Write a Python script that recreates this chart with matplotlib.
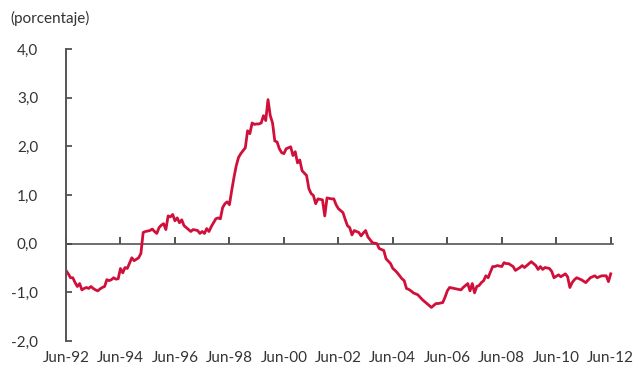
import numpy as np
import pandas as pd
from matplotlib import pyplot as plt
import matplotlib.ticker as mticker

plt.rcParams['font.family'] = ['Lato', 'DejaVu Sans']

# monthly series, Jun-1992 .. Jun-2012 (percent)
values = [
    -0.55, -0.62, -0.70, -0.70, -0.80, -0.88, -0.82, -0.95, -0.92, -0.90, -0.92, -0.88,
    -0.92, -0.95, -0.97, -0.93, -0.90, -0.88, -0.74, -0.76, -0.74, -0.70, -0.73, -0.72,
    -0.51, -0.60, -0.49, -0.51, -0.40, -0.29, -0.35, -0.32, -0.29, -0.20, 0.23, 0.25,
    0.26, 0.27, 0.30, 0.25, 0.21, 0.33, 0.38, 0.41, 0.29, 0.57, 0.55, 0.60,
    0.47, 0.53, 0.43, 0.49, 0.37, 0.33, 0.29, 0.25, 0.29, 0.28, 0.27, 0.21,
    0.25, 0.21, 0.31, 0.25, 0.35, 0.43, 0.51, 0.53, 0.51, 0.74, 0.82, 0.86,
    0.80, 1.09, 1.36, 1.60, 1.77, 1.85, 1.91, 1.97, 2.32, 2.26, 2.48, 2.45,
    2.46, 2.46, 2.48, 2.63, 2.53, 2.96, 2.63, 2.48, 2.11, 2.09, 1.95, 1.87,
    1.85, 1.95, 1.97, 1.99, 1.81, 1.89, 1.66, 1.72, 1.50, 1.45, 1.40, 1.13,
    1.03, 0.99, 0.82, 0.92, 0.91, 0.90, 0.57, 0.94, 0.93, 0.92, 0.92, 0.80,
    0.72, 0.68, 0.64, 0.50, 0.37, 0.33, 0.18, 0.27, 0.25, 0.23, 0.16, 0.22,
    0.27, 0.14, 0.08, 0.02, 0.01, 0.00, -0.10, -0.12, -0.14, -0.31, -0.36, -0.41,
    -0.51, -0.55, -0.60, -0.66, -0.72, -0.76, -0.92, -0.94, -0.97, -1.01, -1.03, -1.05,
    -1.10, -1.15, -1.19, -1.23, -1.27, -1.31, -1.27, -1.23, -1.23, -1.22, -1.21, -1.10,
    -0.97, -0.90, -0.91, -0.92, -0.93, -0.94, -0.95, -0.90, -0.86, -0.82, -0.97, -0.82,
    -1.01, -0.88, -0.86, -0.80, -0.76, -0.66, -0.70, -0.58, -0.47, -0.47, -0.45, -0.46,
    -0.47, -0.39, -0.41, -0.41, -0.44, -0.47, -0.55, -0.52, -0.49, -0.45, -0.49, -0.45,
    -0.41, -0.37, -0.41, -0.45, -0.53, -0.47, -0.53, -0.49, -0.50, -0.51, -0.57, -0.70,
    -0.67, -0.64, -0.68, -0.65, -0.62, -0.68, -0.90, -0.80, -0.74, -0.70, -0.72, -0.74,
    -0.77, -0.80, -0.75, -0.70, -0.68, -0.66, -0.70, -0.68, -0.66, -0.66, -0.66, -0.78,
    -0.62,
]
dates = pd.date_range('1992-06-01', periods=len(values), freq='MS')
tick_labels = ['Jun-92', 'Jun-94', 'Jun-96', 'Jun-98', 'Jun-00',
               'Jun-02', 'Jun-04', 'Jun-06', 'Jun-08', 'Jun-10', 'Jun-12']
y_ticks = [-2, -1, 0, 1, 2, 3, 4]

months = np.arange(len(values))
tick_pos = np.arange(0, len(values), 24)

fig = plt.figure(figsize=(6.35, 3.68), dpi=100)
ax = fig.add_axes([66 / 635, 27 / 368, 547 / 635, 292 / 368])

ax.plot(months, values, color='#D0103A', lw=2.0, solid_joinstyle='round')

ax.set_xlim(0, 241)
ax.set_ylim(-2, 4)
ax.set_yticks(y_ticks)
ax.yaxis.set_major_formatter(mticker.FuncFormatter(lambda v, p: f'{v:.1f}'.replace('.', ',')))

for s in ['top', 'right', 'bottom']:
    ax.spines[s].set_visible(False)
ax.spines['left'].set_color('#555555')
ax.spines['left'].set_linewidth(1.4)

ax.tick_params(axis='y', direction='in', length=4, width=1.2, color='#444444',
               pad=20, labelsize=11, labelcolor='#333333')
ax.set_xticks(tick_pos)
ax.set_xticklabels(tick_labels)
ax.tick_params(axis='x', length=0, pad=7, labelsize=11, labelcolor='#333333')

# zero line with the date ticks
zero = ax.secondary_xaxis(2 / 6)
zero.set_xticks(tick_pos)
zero.set_xticklabels([])
zero.spines['bottom'].set_color('#555555')
zero.spines['bottom'].set_linewidth(1.2)
zero.tick_params(direction='in', length=5, width=1.2, color='#333333')

fig.text(10 / 635, 1 - 18 / 368, '(porcentaje)', fontsize=11, color='#333333',
         ha='left', va='center')

fig.savefig('out.png', dpi=100)
